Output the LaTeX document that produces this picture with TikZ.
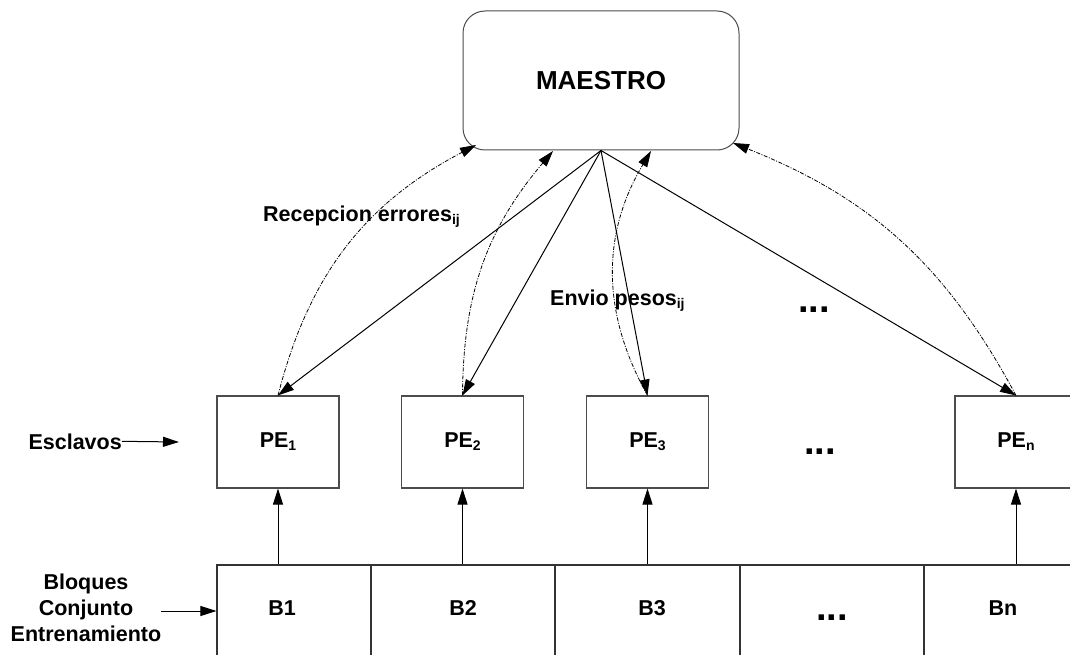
\documentclass[tikz,border=0pt]{standalone}
\usepackage{fontspec}
\setmainfont{Liberation Sans}
\usetikzlibrary{arrows.meta}
\newcommand\sbs[1]{\raisebox{-3pt}{\fontsize{14}{14}\selectfont #1}}
\begin{document}
\begin{tikzpicture}[x=1pt,y=-1pt,
  lbl/.style={font=\fontsize{21.5}{26}\selectfont\bfseries, inner sep=0pt},
  pebox/.style={draw=black!70, line width=1.1pt, minimum width=122pt, minimum height=92pt, inner sep=0pt,
    font=\fontsize{21.5}{26}\selectfont\bfseries},
  cell/.style={draw=black!80, line width=1.1pt, minimum height=92pt, inner sep=0pt},
  sol/.style={line width=1pt, -{Triangle[length=16pt,width=10pt]}},
  dd/.style={line width=0.8pt, dash pattern=on 4pt off 1.5pt on 1pt off 1.5pt, -{Triangle[length=16pt,width=10pt]}},
  dots/.style={font=\fontsize{38}{38}\selectfont\bfseries, inner sep=0pt, anchor=base}
]
\useasboundingbox (0,0) rectangle (1070,655);
\clip (0,0) rectangle (1070,655);

% master
\node[draw=black!70, line width=1pt, rounded corners=22pt, minimum width=276pt, minimum height=139pt,
  inner sep=0pt, font=\fontsize{26}{30}\selectfont\bfseries] (M) at (601,80.5) {MAESTRO};

% slaves
\node[pebox] (PE1) at (278,442) {PE\sbs{1}};
\node[pebox] (PE2) at (462.5,442) {PE\sbs{2}};
\node[pebox] (PE3) at (647.5,442) {PE\sbs{3}};
\node[pebox] (PEn) at (1016,442) {PE\sbs{n}};

% blocks
\node[cell, minimum width=154pt] (B1) at (294,611) {};
\node[cell, minimum width=184pt] (B2) at (463,611) {};
\node[cell, minimum width=185pt] (B3) at (647.5,611) {};
\node[cell, minimum width=184pt] (B4) at (832,611) {};
\node[cell, minimum width=184pt] (Bn) at (1016,611) {};
\node[lbl, anchor=base] (tB1) at (282,615) {B1};
\node[lbl, anchor=base] (tB2) at (463,615) {B2};
\node[lbl, anchor=base] (tB3) at (652,615) {B3};
\node[dots] (tB4) at (832,620) {...};
\node[lbl, anchor=base] (tBn) at (1003,615) {Bn};

% dots
\node[dots] (d1) at (814,312) {...};
\node[dots] (d2) at (820,454) {...};

% side labels
\node[lbl, anchor=base east] (esc) at (122,449) {Esclavos};
\coordinate (escend) at (179,442);
\draw[line width=1pt, -{Triangle[length=16pt,width=10pt]}] (esc.east) -- (escend);
\node[lbl, align=center] (blq) at (86,608) {Bloques\\Conjunto\\Entrenamiento};
\draw[line width=1pt, -{Triangle[length=16pt,width=10pt]}] (blq.east |- B1.west) -- (B1.west);

% block -> slave
\foreach \b/\p in {B1/PE1,B2/PE2,B3/PE3,Bn/PEn}
  \draw[sol] (\b.north -| \p.south) -- (\p.south);

% master -> slaves
\foreach \p in {PE1,PE2,PE3,PEn}
  \draw[sol] (M.south) -- (\p.north);

% slaves -> master (dash-dot)
\coordinate (m1) at (476,145);
\coordinate (m2) at (553,151);
\coordinate (m3) at (651,151);
\coordinate (m4) at (733,143);
\draw[dd] (PE1.north) to[bend left=24] (m1);
\draw[dd] (PE2.north) to[bend left=20] (m2);
\draw[dd] (PE3.north) to[bend left=30] (m3);
\draw[dd] (PEn.north) to[bend right=20] (m4);

% edge labels
\node[lbl, anchor=base west] (rec) at (263,221) {Recepcion errores\sbs{ij}};
\node[lbl, anchor=base west] (env) at (550,305) {Envio pesos\sbs{ij}};
\end{tikzpicture}
\end{document}
